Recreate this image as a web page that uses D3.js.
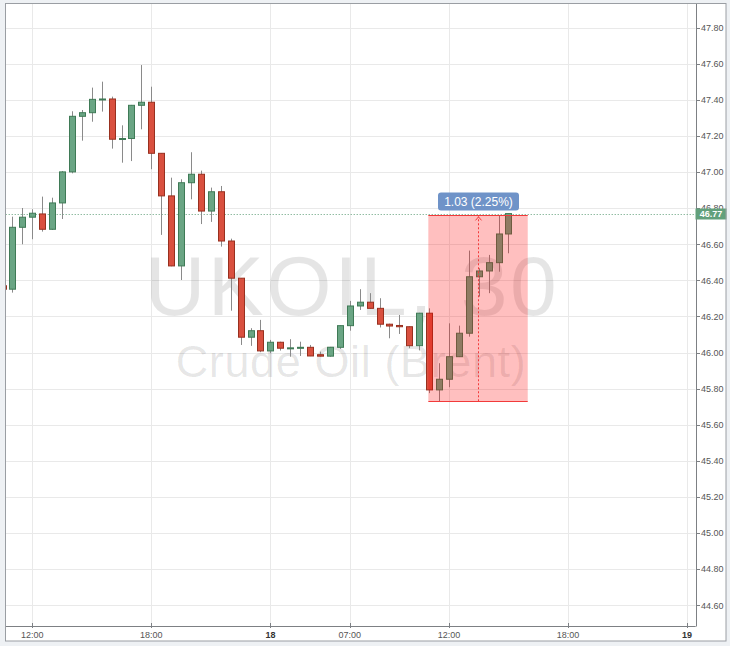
<!DOCTYPE html>
<html>
<head>
<meta charset="utf-8">
<script src="https://cdn.jsdelivr.net/npm/d3@7"></script>
<style>
  html, body { margin: 0; padding: 0; background: #eef1f4; }
  svg { display: block; font-family: "Liberation Sans", Arial, sans-serif; }
</style>
</head>
<body>
<svg id="chart" width="730" height="646"></svg>
<script>
// 30 min candles, index -1 is the one clipped at the left edge
const firstIndex = -1;
const opens = [46.37, 46.351, 46.694, 46.750, 46.768, 46.683, 46.829, 47.001, 47.309, 47.329, 47.403,
  47.405, 47.182, 47.186, 47.370, 47.387, 47.104, 46.868, 46.480, 46.941, 46.988,
  46.784, 46.891, 46.618, 46.412, 46.085, 46.121, 46.009, 46.057, 46.024, 46.026,
  46.029, 45.988, 45.980, 46.029, 46.149, 46.258, 46.279, 46.245, 46.157, 46.150,
  46.143, 46.038, 46.218, 45.793, 45.852, 45.977, 46.107, 46.420, 46.452, 46.498, 46.657];
const highs = [46.38, 46.753, 46.801, 46.794, 46.864, 46.858, 47.006, 47.337, 47.344, 47.468, 47.501,
  47.418, 47.259, 47.372, 47.593, 47.473, 47.104, 46.969, 46.960, 47.110, 47.008,
  46.914, 46.923, 46.631, 46.412, 46.135, 46.181, 46.070, 46.060, 46.074, 46.060,
  46.042, 46.005, 46.031, 46.150, 46.286, 46.351, 46.329, 46.301, 46.160, 46.208,
  46.145, 46.220, 46.245, 45.941, 46.162, 46.149, 46.565, 46.467, 46.541, 46.762, 46.77];
const lows = [46.34, 46.332, 46.600, 46.628, 46.670, 46.679, 46.740, 46.993, 47.174, 47.279, 47.335,
  47.130, 47.052, 47.061, 47.237, 47.016, 46.652, 46.478, 46.402, 46.849, 46.712,
  46.724, 46.587, 46.232, 46.042, 46.037, 46.002, 45.996, 46.011, 45.977, 45.981,
  45.980, 45.978, 45.977, 46.020, 46.121, 46.236, 46.243, 46.139, 46.079, 46.103,
  46.024, 46.012, 45.775, 45.728, 45.808, 45.975, 46.088, 46.310, 46.329, 46.448, 46.550];
const closes = [46.351, 46.694, 46.750, 46.772, 46.683, 46.829, 47.001, 47.309, 47.329, 47.403, 47.405,
  47.182, 47.186, 47.370, 47.387, 47.104, 46.868, 46.480, 46.941, 46.988, 46.784,
  46.891, 46.618, 46.412, 46.085, 46.121, 46.009, 46.057, 46.024, 46.026, 46.029,
  45.981, 45.980, 46.029, 46.149, 46.258, 46.279, 46.245, 46.157, 46.147, 46.143,
  46.038, 46.218, 45.793, 45.852, 45.977, 46.107, 46.420, 46.452, 46.498, 46.657, 46.77];

const timeTickIndex = [2, 14, 26, 34, 44, 56, 68];
const timeTickLabels = ["12:00", "18:00", "18", "07:00", "12:00", "18:00", "19"];
const dayLabels = ["18", "19"];
const priceTicks = [44.6, 44.8, 45.0, 45.2, 45.4, 45.6, 45.8, 46.0, 46.2, 46.4,
  46.6, 46.8, 47.0, 47.2, 47.4, 47.6, 47.8];

const symbolText = "UKOIL, 30";
const descText = "Crude Oil (Brent)";
const lastPrice = 46.77;
// measure tool: bar range and price range
const measureBars = [41.92, 51.94];
const measurePrices = [45.73, 46.76];

const candles = opens.map((o, k) => ({
  i: firstIndex + k, o: o, h: highs[k], l: lows[k], c: closes[k]
}));

const svg = d3.select('#chart');
const plot = { left: 5.7, right: 695.7, top: 3.5, bottom: 625.7 };

const x = d3.scaleLinear().domain([-0.68, 68.87]).range([plot.left, plot.right]);
const y = d3.scaleLinear().domain([44.6, 47.8]).range([605.2, 27.7]);

// frame
svg.append('rect')
  .attr('x', 5.5).attr('y', 3.5).attr('width', 720.5).attr('height', 637.5)
  .attr('fill', '#fff');

svg.append('clipPath').attr('id', 'plotClip')
  .append('rect')
  .attr('x', plot.left).attr('y', plot.top)
  .attr('width', plot.right - plot.left).attr('height', plot.bottom - plot.top);

const g = svg.append('g').attr('clip-path', 'url(#plotClip)');

// grid
g.selectAll('.hgrid').data(priceTicks).join('line')
  .attr('x1', plot.left).attr('x2', plot.right)
  .attr('y1', d => Math.round(y(d)) + 0.5).attr('y2', d => Math.round(y(d)) + 0.5)
  .attr('stroke', '#e9e9e9');
g.selectAll('.vgrid').data(timeTickIndex).join('line')
  .attr('x1', d => Math.round(x(d)) + 0.5).attr('x2', d => Math.round(x(d)) + 0.5)
  .attr('y1', plot.top).attr('y2', plot.bottom)
  .attr('stroke', '#e9e9e9');

// watermark
const cx = (plot.left + plot.right) / 2;
g.append('text')
  .attr('x', cx).attr('y', 315)
  .attr('text-anchor', 'middle')
  .attr('font-size', 84)
  .attr('textLength', 412).attr('lengthAdjust', 'spacing')
  .attr('fill', '#000').attr('fill-opacity', 0.1)
  .text(symbolText);
g.append('text')
  .attr('x', cx).attr('y', 377)
  .attr('text-anchor', 'middle')
  .attr('font-size', 45)
  .attr('textLength', 350).attr('lengthAdjust', 'spacing')
  .attr('fill', '#000').attr('fill-opacity', 0.1)
  .text(descText);

// last price line (under candles)
g.append('line')
  .attr('x1', plot.left).attr('x2', plot.right)
  .attr('y1', Math.round(y(lastPrice)) + 0.5).attr('y2', Math.round(y(lastPrice)) + 0.5)
  .attr('stroke', '#5f9e78').attr('stroke-dasharray', '1,2');

// candles
const bw = 6;
const cg = g.append('g');
cg.selectAll('.wick').data(candles).join('line')
  .attr('x1', d => Math.round(x(d.i)) + 0.5).attr('x2', d => Math.round(x(d.i)) + 0.5)
  .attr('y1', d => y(d.h)).attr('y2', d => y(d.l))
  .attr('stroke', '#8a8a8a');
cg.selectAll('.body').data(candles).join('rect')
  .attr('x', d => Math.round(x(d.i)) - bw / 2 + 0.5)
  .attr('y', d => y(Math.max(d.o, d.c)))
  .attr('width', bw)
  .attr('height', d => Math.max(1, Math.abs(y(d.o) - y(d.c))))
  .attr('fill', d => d.c >= d.o ? '#6aa584' : '#d9503f')
  .attr('stroke', d => d.c >= d.o ? '#3f7a56' : '#98301f')
  .attr('stroke-width', 1);

// measure overlay
const mx0 = x(measureBars[0]), mx1 = x(measureBars[1]);
const my0 = y(measurePrices[1]), my1 = y(measurePrices[0]);
const mxc = Math.round((mx0 + mx1) / 2) + 0.5;
g.append('rect')
  .attr('x', mx0).attr('y', my0).attr('width', mx1 - mx0).attr('height', my1 - my0)
  .attr('fill', 'rgba(255,0,0,0.25)');
[my0, my1].forEach(v => {
  g.append('line')
    .attr('x1', mx0).attr('x2', mx1)
    .attr('y1', Math.round(v) + 0.5).attr('y2', Math.round(v) + 0.5)
    .attr('stroke', '#f23a3a');
});
g.append('line')
  .attr('x1', mxc).attr('x2', mxc).attr('y1', my1).attr('y2', my0 + 1)
  .attr('stroke', '#f23a3a').attr('stroke-dasharray', '2,2');
g.append('path')
  .attr('d', `M${mxc - 3},${my0 + 5}L${mxc},${my0 + 1.5}L${mxc + 3},${my0 + 5}`)
  .attr('fill', 'none').attr('stroke', '#f23a3a');

const diff = measurePrices[1] - measurePrices[0];
const pct = diff / measurePrices[0] * 100;
const lbl = `${diff.toFixed(2)} (${pct.toFixed(2)}%)`;
svg.append('rect')
  .attr('x', mxc - 40.5).attr('y', 192.5).attr('width', 81).attr('height', 18)
  .attr('rx', 3).attr('fill', '#6f93c8');
svg.append('text')
  .attr('x', mxc).attr('y', 205.5)
  .attr('text-anchor', 'middle').attr('font-size', 12).attr('fill', '#fff')
  .text(lbl);

// axes lines
svg.append('line')
  .attr('x1', plot.left).attr('x2', plot.right)
  .attr('y1', Math.round(plot.bottom) + 0.5).attr('y2', Math.round(plot.bottom) + 0.5)
  .attr('stroke', '#7d8084');
svg.append('line')
  .attr('x1', Math.round(plot.right) + 0.5).attr('x2', Math.round(plot.right) + 0.5)
  .attr('y1', plot.top).attr('y2', Math.round(plot.bottom) + 0.5)
  .attr('stroke', '#7d8084');

// price axis
const ya = svg.append('g');
ya.selectAll('line').data(priceTicks).join('line')
  .attr('x1', Math.round(plot.right) + 0.5).attr('x2', Math.round(plot.right) + 4)
  .attr('y1', d => Math.round(y(d)) + 0.5).attr('y2', d => Math.round(y(d)) + 0.5)
  .attr('stroke', '#7d8084');
ya.selectAll('text').data(priceTicks).join('text')
  .attr('x', 701).attr('y', d => y(d) + 3.3)
  .attr('font-size', 9).attr('fill', '#555')
  .text(d => d.toFixed(2));

// last price label
const lpY = Math.round(y(lastPrice));
svg.append('rect')
  .attr('x', 695.5).attr('y', lpY - 5.5).attr('width', 31).attr('height', 11)
  .attr('fill', '#62a07b');
svg.append('text')
  .attr('x', 711).attr('y', lpY + 3.3)
  .attr('text-anchor', 'middle').attr('font-size', 9).attr('font-weight', 'bold')
  .attr('fill', '#fff')
  .text(lastPrice.toFixed(2));

// time axis
const xa = svg.append('g');
xa.selectAll('line').data(timeTickIndex).join('line')
  .attr('x1', d => Math.round(x(d)) + 0.5).attr('x2', d => Math.round(x(d)) + 0.5)
  .attr('y1', 623).attr('y2', 628)
  .attr('stroke', '#7d8084');
xa.selectAll('text').data(timeTickLabels).join('text')
  .attr('x', (d, k) => x(timeTickIndex[k]))
  .attr('y', 637.5)
  .attr('text-anchor', 'middle').attr('font-size', 9)
  .attr('font-weight', d => dayLabels.includes(d) ? 'bold' : 'normal')
  .attr('fill', d => dayLabels.includes(d) ? '#333' : '#555')
  .text(d => d);

// outer border
svg.append('rect')
  .attr('x', 5.5).attr('y', 3.5).attr('width', 720.5).attr('height', 637.5)
  .attr('fill', 'none').attr('stroke', '#9a9ea3');
</script>
</body>
</html>
